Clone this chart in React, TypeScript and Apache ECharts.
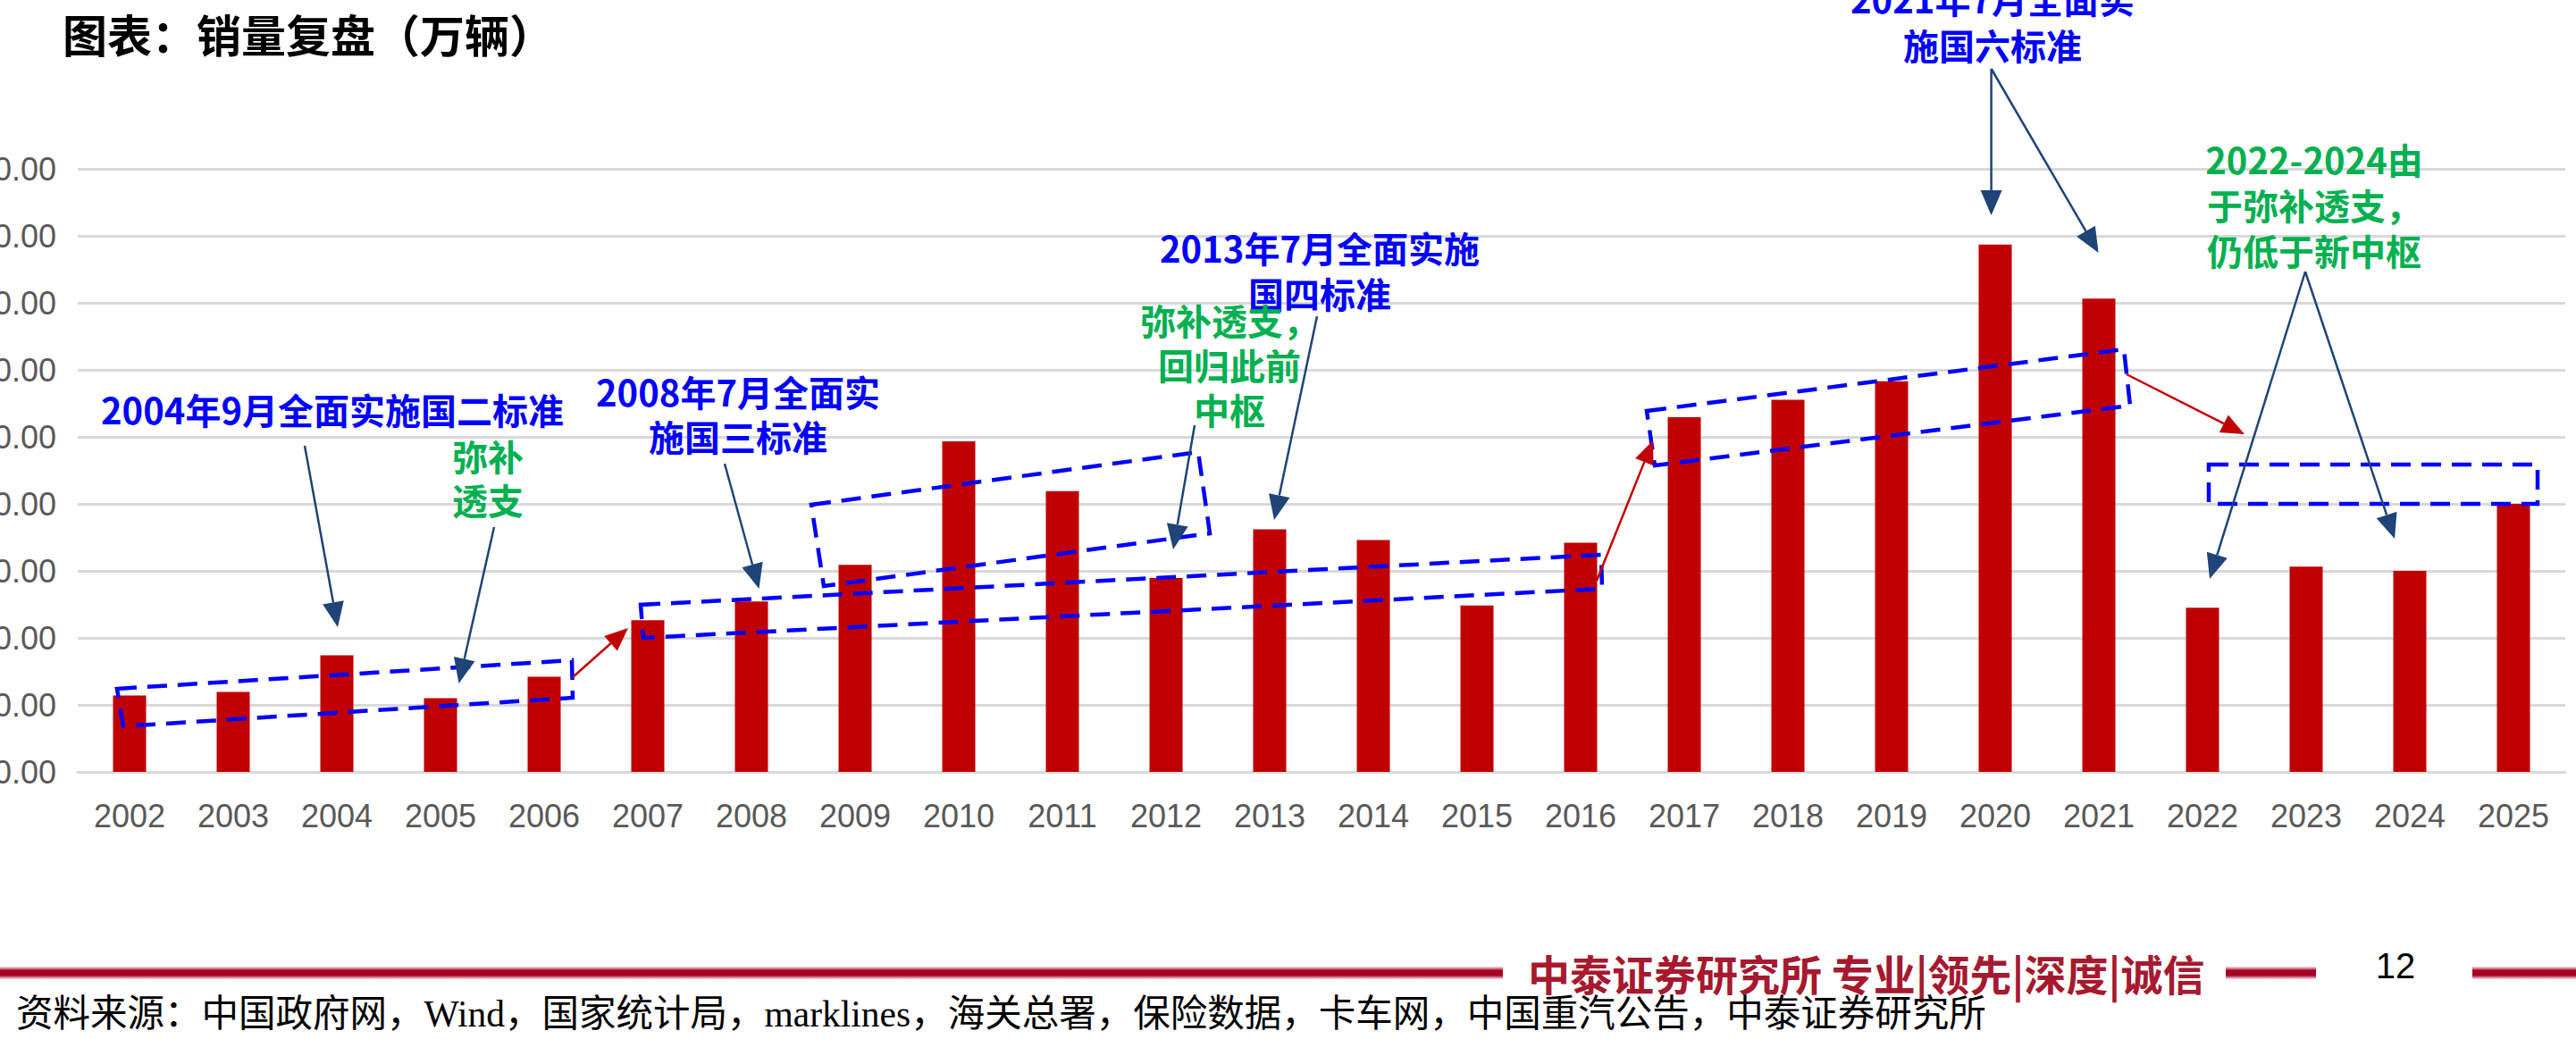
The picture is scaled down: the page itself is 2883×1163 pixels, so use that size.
import React, { useEffect, useRef } from "react";
import * as echarts from "echarts";

// Annual domestic sales, 10k units
const years = [
  "2002", "2003", "2004", "2005", "2006", "2007", "2008", "2009", "2010", "2011", "2012", "2013",
  "2014", "2015", "2016", "2017", "2018", "2019", "2020", "2021", "2022", "2023", "2024", "2025",
];
const sales = [
  22.8, 23.9, 34.8, 22.0, 28.4, 45.3, 50.9, 61.8, 98.7, 83.8, 57.9, 72.4,
  69.2, 49.7, 68.4, 105.9, 111.1, 116.6, 157.4, 141.3, 49.0, 61.3, 60.0, 80.0,
];
const yMin = 0;
const yMax = 180;
const yStep = 20;

const titleText = "图表：销量复盘（万辆）";
const sourceText =
  "资料来源：中国政府网，Wind，国家统计局，marklines，海关总署，保险数据，卡车网，中国重汽公告，中泰证券研究所";
const brandText = "中泰证券研究所 专业|领先|深度|诚信";
const pageNo = "12";

const BLUE = "#0000FF";
const GREEN = "#00B050";
const NAVY = "#1F4477";
const RED = "#C00000";
const CJK = "'Noto Sans CJK SC', sans-serif";
const LATIN = "'Liberation Sans', Arial, sans-serif";

type Pt = [number, number];

function arrow(from: Pt, to: Pt, color: string, width: number, headLen: number, headW: number) {
  const dx = to[0] - from[0];
  const dy = to[1] - from[1];
  const len = Math.sqrt(dx * dx + dy * dy);
  const ux = dx / len;
  const uy = dy / len;
  const bx = to[0] - ux * headLen;
  const by = to[1] - uy * headLen;
  const px = -uy;
  const py = ux;
  return [
    {
      type: "line",
      z: 100,
      shape: { x1: from[0], y1: from[1], x2: bx, y2: by },
      style: { stroke: color, lineWidth: width },
    },
    {
      type: "polygon",
      z: 100,
      shape: {
        points: [
          [to[0], to[1]],
          [bx + (px * headW) / 2, by + (py * headW) / 2],
          [bx - (px * headW) / 2, by - (py * headW) / 2],
        ],
      },
      style: { fill: color },
    },
  ];
}

function dashedBox(points: Pt[]) {
  return {
    type: "polygon",
    z: 100,
    shape: { points },
    style: { fill: "none", stroke: BLUE, lineWidth: 4.5, lineDash: [22, 12] },
  };
}

// a multi-line note, one text element per line, centred on (x, y)
function note(lines: string[], x: number, y: number, color: string, step = 50) {
  const top = y - ((lines.length - 1) * step) / 2;
  return lines.map((line, i) => ({
    type: "text",
    z: 100,
    x,
    y: top + i * step,
    style: {
      text: line,
      fill: color,
      fontSize: 40,
      fontFamily: CJK,
      fontWeight: "bold",
      align: "center",
      verticalAlign: "middle",
      lineHeight: 40,
    },
  }));
}

export default function App() {
  const ref = useRef<HTMLDivElement>(null);

  useEffect(() => {
    if (!ref.current) return;
    const chart = echarts.init(ref.current, undefined, { renderer: "svg" });

    const graphics: any[] = [
      // title
      {
        type: "text",
        x: 70,
        y: 37,
        style: {
          text: titleText,
          fill: "#000",
          fontSize: 50,
          fontFamily: CJK,
          fontWeight: "bold",
          verticalAlign: "middle",
        },
      },
      // trend bands
      dashedBox([[131, 771], [640, 739], [641, 781], [138, 813]]),
      dashedBox([[717, 677], [1792, 621], [1793, 659], [720, 714]]),
      dashedBox([[908, 565], [1341, 506], [1354, 597], [922, 656]]),
      dashedBox([[1843, 460], [2377, 391], [2384, 454], [1852, 521]]),
      dashedBox([[2472, 520], [2840, 520], [2840, 564], [2472, 564]]),
      // notes
      ...note(["2004年9月全面实施国二标准"], 372, 458, BLUE),
      ...note(["弥补", "透支"], 546, 534, GREEN, 49),
      ...note(["2008年7月全面实", "施国三标准"], 826, 463, BLUE),
      ...note(["2013年7月全面实施", "国四标准"], 1477, 302, BLUE, 51),
      ...note(["弥补透支，", "回归此前", "中枢"], 1376, 408, GREEN, 50),
      ...note(["2021年7月全面实", "施国六标准"], 2230, 24, BLUE, 52),
      ...note(["2022-2024由", "于弥补透支，", "仍低于新中枢"], 2590, 229, GREEN, 51),
      // pointers
      ...arrow([341, 499], [378, 702], NAVY, 2.5, 28, 24),
      ...arrow([553, 590], [513.5, 765], NAVY, 2.5, 28, 24),
      ...arrow([811, 519], [849.5, 659], NAVY, 2.5, 28, 24),
      ...arrow([1474, 354], [1426, 582], NAVY, 2.5, 28, 24),
      ...arrow([1337, 476], [1313, 615], NAVY, 2.5, 28, 24),
      ...arrow([2228.6, 77], [2228.6, 241], NAVY, 2.5, 28, 24),
      ...arrow([2228.6, 77], [2348.6, 283], NAVY, 2.5, 28, 24),
      ...arrow([2580, 304], [2473, 648], NAVY, 2.5, 28, 24),
      ...arrow([2580, 304], [2680, 603], NAVY, 2.5, 28, 24),
      ...arrow([641, 758], [703, 703], RED, 2.5, 26, 22),
      ...arrow([1787, 650], [1850, 493], RED, 2.5, 26, 22),
      ...arrow([2380, 419], [2512, 486], RED, 2.5, 26, 22),
      // footer rule
      ...[
        [0, 1682],
        [2491, 2592],
        [2767, 2883],
      ].map(([a, b]) => ({
        type: "rect",
        shape: { x: a, y: 1082, width: b - a, height: 14 },
        style: {
          fill: new echarts.graphic.LinearGradient(0, 0, 0, 1, [
            { offset: 0, color: "rgba(200,40,80,0.15)" },
            { offset: 0.3, color: "#A50021" },
            { offset: 0.7, color: "#A50021" },
            { offset: 1, color: "rgba(200,40,80,0.15)" },
          ]),
        },
      })),
      {
        type: "text",
        x: 1710,
        y: 1088,
        style: {
          text: brandText,
          fill: "#A6192E",
          fontSize: 47,
          fontFamily: CJK,
          fontWeight: "bold",
          verticalAlign: "middle",
        },
      },
      {
        type: "text",
        x: 2681,
        y: 1081,
        style: {
          text: pageNo,
          fill: "#000",
          fontSize: 40,
          fontFamily: LATIN,
          align: "center",
          verticalAlign: "middle",
        },
      },
      {
        type: "text",
        x: 18,
        y: 1135,
        style: {
          text: sourceText,
          fill: "#000",
          fontSize: 41.5,
          fontFamily: "'Liberation Serif', 'Noto Sans CJK SC', serif",
          verticalAlign: "middle",
        },
      },
    ];

    chart.setOption({
      animation: false,
      backgroundColor: "#ffffff",
      grid: {
        left: 87,
        right: 12,
        top: 189,
        bottom: 299,
        containLabel: false,
        outerBoundsMode: "none",
      },
      xAxis: {
        type: "category",
        data: years,
        axisLine: { show: true, lineStyle: { color: "#D9D9D9", width: 3 } },
        axisTick: { show: false },
        axisLabel: {
          color: "#595959",
          fontSize: 36,
          fontFamily: LATIN,
          margin: 31,
          interval: 0,
        },
      },
      yAxis: {
        type: "value",
        min: yMin,
        max: yMax,
        interval: yStep,
        axisLine: { show: false },
        axisTick: { show: false },
        splitLine: { lineStyle: { color: "#D9D9D9", width: 3 } },
        axisLabel: {
          color: "#595959",
          fontSize: 36,
          fontFamily: LATIN,
          margin: 24,
          formatter: (v: number) => v.toFixed(2),
        },
      },
      series: [
        {
          type: "bar",
          data: sales,
          barWidth: 37,
          itemStyle: { color: RED },
        },
      ],
      graphic: graphics,
    });

    return () => chart.dispose();
  }, []);

  return (
    <div
      ref={ref}
      style={{ position: "fixed", left: 0, top: 0, width: 2883, height: 1163, background: "#fff" }}
    />
  );
}
